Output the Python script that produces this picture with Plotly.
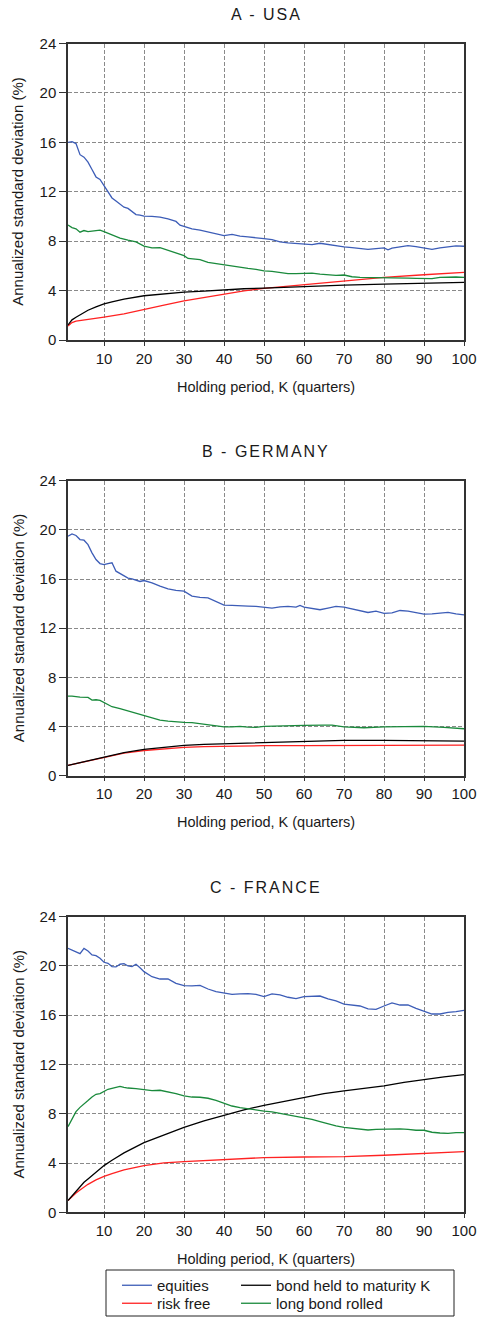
import plotly.graph_objects as go

# Holding-period volatility readings: (K quarters, annualized std. dev. %)
USA_EQUITIES = [(1, 16.0), (2, 16.05), (3, 15.9), (4, 15.0), (5, 14.8), (6, 14.4), (7, 13.8), (8, 13.2),
                (9, 13.0), (10, 12.5), (11, 11.9), (12, 11.5), (13, 11.25), (14, 11.0), (15, 10.75),
                (16, 10.65), (17, 10.4), (18, 10.15), (19, 10.1), (20, 10.03), (22, 10.0), (24, 9.95),
                (26, 9.8), (28, 9.6), (29, 9.3), (30, 9.2), (32, 9.0), (34, 8.9), (36, 8.75), (38, 8.6),
                (40, 8.45), (42, 8.55), (44, 8.4), (46, 8.35), (48, 8.3), (50, 8.2), (52, 8.13), (54, 7.94),
                (56, 7.86), (58, 7.83), (60, 7.78), (62, 7.72), (64, 7.83), (66, 7.72), (68, 7.67),
                (70, 7.53), (72, 7.48), (74, 7.43), (76, 7.34), (78, 7.4), (80, 7.45), (81, 7.3),
                (82, 7.43), (84, 7.53), (86, 7.64), (88, 7.56), (90, 7.48), (92, 7.34), (94, 7.45),
                (96, 7.53), (98, 7.62), (100, 7.59)]
USA_RISK_FREE = [(1, 1.14), (2, 1.41), (3, 1.52), (5, 1.63), (10, 1.86), (15, 2.11), (20, 2.49), (25, 2.82),
                 (30, 3.17), (35, 3.44), (40, 3.74), (45, 3.98), (50, 4.18), (60, 4.47), (70, 4.82),
                 (80, 5.07), (90, 5.28), (100, 5.47)]
USA_BOND_HELD = [(1, 1.22), (2, 1.63), (3, 1.84), (4, 2.03), (5, 2.25), (6, 2.41), (8, 2.68), (10, 2.93),
                 (12, 3.09), (15, 3.31), (20, 3.58), (25, 3.74), (30, 3.88), (35, 3.96), (40, 4.07),
                 (45, 4.15), (50, 4.2), (60, 4.34), (70, 4.44), (80, 4.53), (90, 4.58), (100, 4.66)]
USA_LONG_BOND = [(1, 9.3), (2, 9.1), (3, 9.0), (4, 8.73), (5, 8.86), (6, 8.78), (8, 8.86), (9, 8.89),
                 (10, 8.78), (12, 8.5), (14, 8.24), (16, 8.08), (18, 7.94), (20, 7.6), (22, 7.45),
                 (24, 7.48), (26, 7.26), (28, 7.02), (30, 6.83), (31, 6.6), (34, 6.5), (36, 6.29),
                 (38, 6.18), (40, 6.12), (42, 6.02), (44, 5.85), (46, 5.8), (48, 5.72), (50, 5.6),
                 (52, 5.56), (54, 5.45), (56, 5.37), (58, 5.37), (60, 5.37), (62, 5.42), (64, 5.34),
                 (66, 5.26), (68, 5.23), (70, 5.26), (72, 5.12), (74, 5.07), (76, 5.07), (78, 5.04),
                 (80, 5.04), (82, 5.07), (84, 5.04), (86, 5.01), (88, 4.99), (90, 4.96), (92, 4.96),
                 (94, 5.07), (96, 5.1), (98, 5.1), (100, 5.07)]

GER_EQUITIES = [(1, 19.49), (2, 19.67), (3, 19.54), (4, 19.21), (5, 19.16), (6, 18.8), (7, 18.13),
                (8, 17.59), (9, 17.26), (10, 17.18), (11, 17.26), (12, 17.32), (13, 16.64), (14, 16.45),
                (15, 16.31), (16, 16.07), (17, 16.02), (18, 15.88), (19, 15.8), (20, 15.88), (22, 15.69),
                (24, 15.42), (26, 15.2), (28, 15.07), (30, 15.01), (32, 14.61), (34, 14.5), (36, 14.47),
                (38, 14.17), (40, 13.88), (42, 13.85), (44, 13.85), (46, 13.79), (48, 13.77), (50, 13.7),
                (52, 13.63), (54, 13.74), (56, 13.77), (58, 13.71), (59, 13.85), (60, 13.71), (62, 13.63),
                (64, 13.5), (66, 13.63), (68, 13.77), (70, 13.71), (72, 13.58), (74, 13.44), (76, 13.28),
                (78, 13.39), (80, 13.2), (82, 13.25), (84, 13.44), (86, 13.39), (88, 13.25), (90, 13.14),
                (92, 13.17), (94, 13.25), (96, 13.28), (98, 13.17), (100, 13.09)]
GER_RISK_FREE = [(1, 0.84), (5, 1.14), (10, 1.52), (15, 1.84), (20, 2.05), (25, 2.2), (30, 2.31), (35, 2.37),
                 (40, 2.4), (45, 2.41), (50, 2.44), (60, 2.44), (70, 2.44), (80, 2.44), (90, 2.47), (100, 2.49)]
GER_BOND_HELD = [(1, 0.84), (5, 1.14), (10, 1.52), (15, 1.87), (20, 2.14), (25, 2.33), (30, 2.47), (35, 2.55),
                 (40, 2.6), (45, 2.66), (50, 2.69), (60, 2.79), (70, 2.87), (80, 2.87), (90, 2.85), (100, 2.82)]
GER_LONG_BOND = [(1, 6.48), (2, 6.48), (4, 6.4), (6, 6.37), (7, 6.15), (8, 6.18), (9, 6.12), (10, 5.93),
                 (12, 5.61), (14, 5.45), (16, 5.26), (18, 5.07), (20, 4.85), (22, 4.66), (24, 4.53),
                 (26, 4.44), (28, 4.36), (30, 4.34), (32, 4.31), (34, 4.23), (36, 4.17), (38, 4.04),
                 (40, 3.98), (42, 3.98), (44, 4.01), (46, 3.96), (48, 3.93), (50, 4.01), (55, 4.07),
                 (60, 4.09), (65, 4.12), (67, 4.12), (70, 3.98), (75, 3.9), (80, 3.98), (85, 4.01),
                 (90, 4.01), (95, 3.93), (100, 3.82)]

FRA_EQUITIES = [(1, 21.43), (2, 21.27), (3, 21.1), (4, 21.0), (5, 21.43), (6, 21.22), (7, 20.89), (8, 20.84),
                (9, 20.62), (10, 20.3), (11, 20.22), (12, 19.95), (13, 19.92), (14, 20.14), (15, 20.19),
                (16, 20.0), (17, 19.95), (18, 20.14), (19, 19.86), (20, 19.54), (22, 19.13), (24, 18.94),
                (26, 18.94), (28, 18.59), (30, 18.4), (32, 18.38), (34, 18.43), (36, 18.13), (38, 17.91),
                (40, 17.83), (42, 17.7), (44, 17.73), (46, 17.75), (48, 17.7), (50, 17.52), (52, 17.73),
                (54, 17.65), (56, 17.46), (58, 17.35), (60, 17.51), (62, 17.54), (64, 17.56), (66, 17.32),
                (68, 17.16), (70, 16.91), (72, 16.83), (74, 16.75), (76, 16.51), (78, 16.48), (80, 16.75),
                (82, 17.0), (84, 16.83), (86, 16.83), (88, 16.56), (90, 16.35), (92, 16.1), (94, 16.1),
                (96, 16.24), (98, 16.29), (100, 16.4)]
FRA_RISK_FREE = [(1, 0.95), (2, 1.27), (3, 1.57), (4, 1.81), (5, 2.06), (6, 2.27), (8, 2.63), (10, 2.92),
                 (12, 3.14), (15, 3.44), (20, 3.79), (25, 4.01), (30, 4.11), (35, 4.19), (40, 4.28),
                 (45, 4.36), (50, 4.44), (60, 4.49), (70, 4.52), (80, 4.63), (90, 4.76), (100, 4.93)]
FRA_BOND_HELD = [(1, 0.95), (2, 1.33), (3, 1.73), (4, 2.08), (5, 2.44), (6, 2.71), (8, 3.27), (10, 3.79),
                 (12, 4.22), (15, 4.82), (20, 5.66), (25, 6.31), (30, 6.9), (35, 7.42), (40, 7.88),
                 (45, 8.31), (50, 8.69), (55, 9.01), (60, 9.36), (65, 9.63), (70, 9.85), (75, 10.04),
                 (80, 10.26), (85, 10.55), (90, 10.8), (95, 10.99), (100, 11.18)]
FRA_LONG_BOND = [(1, 6.96), (2, 7.63), (3, 8.17), (4, 8.52), (5, 8.77), (6, 9.07), (7, 9.36), (8, 9.58),
                 (9, 9.63), (10, 9.8), (11, 9.99), (12, 10.07), (13, 10.18), (14, 10.23), (15, 10.15),
                 (16, 10.09), (18, 10.04), (20, 9.99), (22, 9.88), (24, 9.91), (26, 9.8), (28, 9.63),
                 (30, 9.45), (32, 9.36), (34, 9.34), (36, 9.26), (38, 9.09), (40, 8.85), (42, 8.63),
                 (44, 8.5), (46, 8.39), (48, 8.28), (50, 8.22), (52, 8.15), (54, 8.04), (56, 7.93),
                 (58, 7.79), (60, 7.69), (62, 7.55), (64, 7.36), (66, 7.17), (68, 7.01), (70, 6.9),
                 (72, 6.82), (74, 6.74), (76, 6.68), (78, 6.74), (80, 6.77), (82, 6.74), (84, 6.77),
                 (86, 6.74), (88, 6.66), (90, 6.66), (92, 6.5), (94, 6.44), (96, 6.41), (98, 6.47),
                 (100, 6.47)]

PANEL_TITLES = ["A - USA", "B - GERMANY", "C - FRANCE"]
SERIES_NAMES = ["equities", "risk free", "bond held to maturity K", "long bond rolled"]
X_TICKS = [10, 20, 30, 40, 50, 60, 70, 80, 90, 100]
Y_TICKS = [0, 4, 8, 12, 16, 20, 24]

PANEL_DATA = [
    [USA_EQUITIES, USA_RISK_FREE, USA_BOND_HELD, USA_LONG_BOND],
    [GER_EQUITIES, GER_RISK_FREE, GER_BOND_HELD, GER_LONG_BOND],
    [FRA_EQUITIES, FRA_RISK_FREE, FRA_BOND_HELD, FRA_LONG_BOND],
]

# ---- styling -------------------------------------------------------------
W, H = 478, 1317
FONT = "Liberation Sans, Arial, sans-serif"
TEXT_COLOR = "#1a1a1a"
COLORS = ["#3d5db7", "#ff2222", "#000000", "#1a8a3c"]

PLOT_LEFT, PLOT_RIGHT = 68, 464          # pixel extents of each panel
PANEL_BOUNDS = [(43.5, 340.0), (480.7, 775.7), (916.7, 1212.3)]
TITLE_Y = [15, 451.5, 887.5]

# one single-entry legend per series, laid out as a 2 x 2 key:
# left column equities / risk free, right column bond held / long bond
LEGEND_IDS = ["legend", "legend2", "legend3", "legend4"]
LEGEND_POS = {"legend": (117, 1269), "legend2": (117, 1287),
              "legend3": (236, 1269), "legend4": (236, 1287)}


def px_x(v):
    return v / W


def px_y(v):
    return 1 - v / H


fig = go.Figure()

for p, series_list in enumerate(PANEL_DATA):
    suffix = "" if p == 0 else str(p + 1)
    for s, pairs in enumerate(series_list):
        ks = [k for k, _ in pairs]
        vals = [v for _, v in pairs]
        fig.add_trace(go.Scatter(
            x=ks, y=vals, mode="lines", name=SERIES_NAMES[s],
            line=dict(color=COLORS[s], width=1.3),
            xaxis="x" + suffix, yaxis="y" + suffix,
            showlegend=(p == 0), legend=LEGEND_IDS[s],
            hoverinfo="skip",
        ))

layout = dict(
    width=W, height=H,
    margin=dict(l=0, r=0, t=0, b=0, autoexpand=False),
    paper_bgcolor="white", plot_bgcolor="white",
    font=dict(family=FONT, color=TEXT_COLOR, size=15),
    annotations=[], shapes=[],
)

axis_line = dict(showline=True, linecolor="#333333", linewidth=1.5, mirror=True,
                 showgrid=True, gridcolor="#8a8a8a", gridwidth=1, griddash="4px,2px",
                 zeroline=False, ticks="outside", tickcolor="#333333",
                 tickfont=dict(family=FONT, size=15, color=TEXT_COLOR))

for p, (top, bottom) in enumerate(PANEL_BOUNDS):
    suffix = "" if p == 0 else str(p + 1)
    layout["xaxis" + suffix] = dict(
        axis_line, domain=[px_x(PLOT_LEFT), px_x(PLOT_RIGHT)], range=[1, 100],
        tickmode="array", tickvals=X_TICKS, ticklen=4,
        anchor="y" + suffix,
    )
    layout["yaxis" + suffix] = dict(
        axis_line, domain=[px_y(bottom), px_y(top)], range=[0, 24],
        tickmode="array", tickvals=Y_TICKS, ticklen=7,
        anchor="x" + suffix,
    )
    centre_x = px_x((PLOT_LEFT + PLOT_RIGHT) / 2)
    layout["annotations"] += [
        dict(text='<span style="letter-spacing:2px">%s</span>' % PANEL_TITLES[p],
             x=centre_x, y=px_y(TITLE_Y[p]), xref="paper", yref="paper",
             xanchor="center", yanchor="middle", showarrow=False,
             font=dict(family=FONT, size=16, color=TEXT_COLOR)),
        dict(text="Holding period, K (quarters)",
             x=centre_x, y=px_y(bottom + 46.5), xref="paper", yref="paper",
             xanchor="center", yanchor="middle", showarrow=False,
             font=dict(family=FONT, size=14.5, color=TEXT_COLOR)),
        dict(text="Annualized standard deviation (%)", textangle=-90,
             x=px_x(18), y=px_y((top + bottom) / 2), xref="paper", yref="paper",
             xanchor="center", yanchor="middle", showarrow=False,
             font=dict(family=FONT, size=15, color=TEXT_COLOR)),
    ]

# legend frame under the last panel
layout["shapes"].append(dict(type="rect", xref="paper", yref="paper",
                             x0=px_x(106), x1=px_x(454), y0=px_y(1316), y1=px_y(1270),
                             line=dict(color="#222222", width=1), fillcolor="rgba(0,0,0,0)"))

for lid, (lx, ly) in LEGEND_POS.items():
    layout[lid] = dict(orientation="v", yanchor="top", xanchor="left",
                       x=px_x(lx), y=px_y(ly),
                       bgcolor="rgba(0,0,0,0)", borderwidth=0, tracegroupgap=0,
                       font=dict(family=FONT, size=15, color=TEXT_COLOR))

fig.update_layout(**layout)
fig.write_html("out.html")
